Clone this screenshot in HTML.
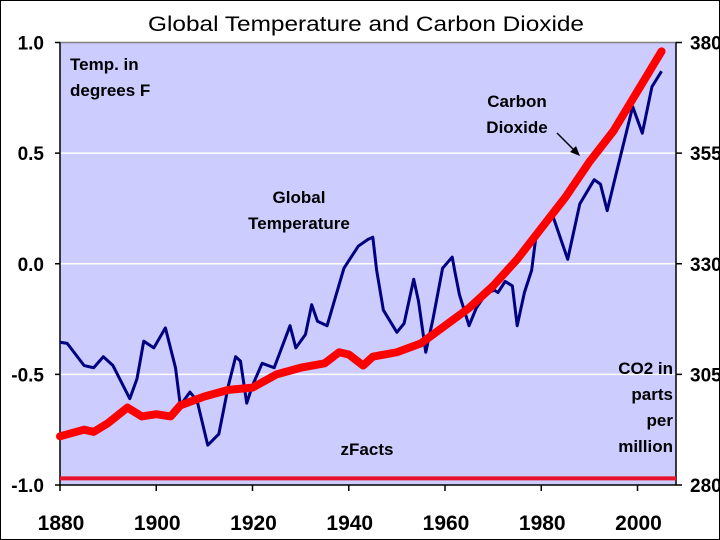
<!DOCTYPE html>
<html><head><meta charset="utf-8"><style>
html,body{margin:0;padding:0;background:#fff}
svg{display:block;font-family:"Liberation Sans",Arial,sans-serif}
</style></head><body>
<svg id="chart" width="720" height="540" viewBox="0 0 720 540">
<rect x="0.5" y="0.5" width="719" height="539" fill="#fff" stroke="#000" stroke-width="1"/>
<text x="366" y="31" text-anchor="middle" font-size="21" textLength="436" lengthAdjust="spacingAndGlyphs" fill="#000">Global Temperature and Carbon Dioxide</text>
<rect x="60" y="42.5" width="616" height="442.5" fill="#ccccff"/>
<line x1="60" y1="42.5" x2="676" y2="42.5" stroke="#808080" stroke-width="1.5"/>
<g id="grid"></g>
<g id="axes"></g>
<g id="series"></g>
<g font-weight="bold" font-size="17" fill="#000">
<text x="70" y="70">Temp. in</text>
<text x="70" y="96">degrees F</text>
<text x="517" y="107" text-anchor="middle">Carbon</text>
<text x="517" y="133" text-anchor="middle">Dioxide</text>
<text x="299" y="203" text-anchor="middle">Global</text>
<text x="299" y="229" text-anchor="middle">Temperature</text>
<text x="673" y="374" text-anchor="end">CO2 in</text>
<text x="673" y="400" text-anchor="end">parts</text>
<text x="673" y="426" text-anchor="end">per</text>
<text x="673" y="452" text-anchor="end">million</text>
<text x="367" y="455" text-anchor="middle">zFacts</text>
</g>
<g>
<line x1="557" y1="133" x2="575" y2="151" stroke="#000" stroke-width="1.5"/>
<polygon points="580,156 570,152 576,146" fill="#000"/>
</g>
</svg>
<script>
const years=[1880,1885,1887,1890,1894,1897,1900,1903,1905,1910,1915,1920,1925,1930,1935,1938,1940,1943,1945,1950,1955,1960,1965,1970,1975,1980,1985,1990,1995,2000,2005];
const co2Values=[291,292.5,292,294,297.5,295.5,296,295.5,298,300,301.5,302,305,306.5,307.5,310,309.5,307,309,310,312,316,320,325,331,338,345,353,360,369,378];
const tempYears=[1880,1881.5,1885,1887,1889,1891,1894.5,1896,1897.4,1899.5,1901.9,1904,1905,1907,1908.5,1910.7,1913,1915,1916.5,1917.5,1918.8,1920,1922,1924.5,1927.8,1929,1931,1932.3,1933.5,1935.5,1939,1942,1944,1945,1945.8,1947.2,1950,1951.5,1953.5,1954.5,1956,1957.5,1959.5,1961.5,1962,1963,1965,1966.5,1968.7,1970.3,1971,1972.5,1974,1975,1976.5,1978,1979,1982.5,1985.5,1988,1991,1992.3,1993.7,1995.6,1999,2001,2003,2005];
const tempValues=[-0.355,-0.36,-0.46,-0.47,-0.42,-0.46,-0.61,-0.52,-0.35,-0.38,-0.29,-0.47,-0.64,-0.58,-0.62,-0.82,-0.77,-0.55,-0.42,-0.44,-0.63,-0.55,-0.45,-0.47,-0.28,-0.38,-0.32,-0.185,-0.26,-0.28,-0.02,0.08,0.11,0.12,-0.03,-0.21,-0.31,-0.27,-0.07,-0.17,-0.40,-0.25,-0.02,0.03,-0.03,-0.14,-0.28,-0.2,-0.13,-0.12,-0.13,-0.08,-0.1,-0.28,-0.13,-0.03,0.14,0.21,0.02,0.27,0.38,0.36,0.24,0.41,0.71,0.59,0.80,0.87];
const baselineCO2=[281.5];
const leftTicks=[1.0,0.5,0.0,-0.5,-1.0];
const leftTickLabels=["1.0","0.5","0.0","-0.5","-1.0"];
const rightTicks=[380,355,330,305,280];
const xTicks=[1880,1900,1920,1940,1960,1980,2000];

const NS="http://www.w3.org/2000/svg";
const X0=60,X1=676,Y0=42.5,Y1=485;
const xMin=1880,xMax=2008;
function xs(v){return X0+(v-xMin)/(xMax-xMin)*(X1-X0);}
function yL(v){return Y1-(v+1)/2*(Y1-Y0);}
function yR(v){return Y1-(v-280)/100*(Y1-Y0);}
function mk(tag,attrs,parent){const e=document.createElementNS(NS,tag);for(const k in attrs)e.setAttribute(k,attrs[k]);parent.appendChild(e);return e;}
const grid=document.getElementById('grid'),axes=document.getElementById('axes'),series=document.getElementById('series');

[0.5,0,-0.5].forEach(v=>{
  const l=mk('line',{x1:X0,x2:X1,y1:yL(v),y2:yL(v),stroke:'#fff','stroke-width':1.5},grid);
  
  
});
const la=mk('line',{x1:X0,x2:X0,y1:Y0,y2:Y1,stroke:'#000','stroke-width':1.5},axes);


const ra=mk('line',{x1:X1,x2:X1,y1:Y0,y2:Y1,stroke:'#000','stroke-width':1.5},axes);


const xa=mk('line',{x1:X0,x2:X1,y1:Y1,y2:Y1,stroke:'#000','stroke-width':1.5},axes);


leftTicks.forEach((v,i)=>{
  mk('line',{x1:X0-5,x2:X0,y1:yL(v),y2:yL(v),stroke:'#000','stroke-width':1.5},axes);
  const t=mk('text',{x:44,y:yL(v)+7,'text-anchor':'end','font-size':19,'font-weight':'bold'},axes);
  t.textContent=leftTickLabels[i];
  
  
});
rightTicks.forEach(v=>{
  mk('line',{x1:X1,x2:X1+6,y1:yR(v),y2:yR(v),stroke:'#000','stroke-width':1.5},axes);
  const t=mk('text',{x:690,y:yR(v)+7,'font-size':19,'font-weight':'bold'},axes);
  t.textContent=String(v);
  
  
});
xTicks.forEach(v=>{
  mk('line',{x1:xs(v),x2:xs(v),y1:Y1,y2:Y1+6,stroke:'#000','stroke-width':1.5},axes);
  const t=mk('text',{x:xs(v)+1,y:Y1+45,'text-anchor':'middle','font-size':21,'font-weight':'bold'},axes);
  t.textContent=String(v);
  
  
});
mk('line',{x1:X1,x2:X1+5,y1:Y1,y2:Y1,stroke:'#000'},axes);

const base=mk('line',{x1:X0,x2:X1,y1:yR(baselineCO2[0]),y2:yR(baselineCO2[0]),stroke:'#e8102a','stroke-width':4},series);



const tp=mk('polyline',{points:tempYears.map((y,i)=>xs(y)+','+yL(tempValues[i])).join(' '),fill:'none',stroke:'#000080','stroke-width':3,'stroke-linejoin':'round'},series);



const cp=mk('polyline',{points:years.map((y,i)=>xs(y)+','+yR(co2Values[i])).join(' '),fill:'none',stroke:'#ff0000','stroke-width':8,'stroke-linejoin':'round','stroke-linecap':'round'},series);


</script>
</body></html>
